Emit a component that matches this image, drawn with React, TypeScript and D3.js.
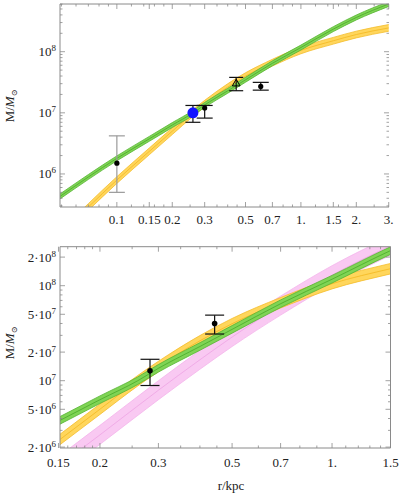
import React, { useEffect, useRef } from 'react';
import * as d3 from 'd3';

// model bands: r in kpc, M in solar masses (centre line of each band)
const greenR = [0.049, 0.1, 0.15, 0.2, 0.26, 0.3, 0.4, 0.5, 0.7, 1.0, 1.5, 2.0, 3.0];
const greenM = [4.27e5, 1.8e6, 3.75e6, 6.31e6, 1.0e7, 1.35e7, 2.29e7, 3.47e7, 6.46e7, 1.17e8, 2.34e8, 3.63e8, 6.03e8];
const greenWidthDex = 0.04;

const orangeR = [0.049, 0.07, 0.1, 0.15, 0.2, 0.26, 0.3, 0.4, 0.5, 0.7, 1.0, 1.5, 2.0, 3.0];
const orangeM = [1.0e5, 2.88e5, 7.94e5, 2.34e6, 5.01e6, 1.0e7, 1.41e7, 2.63e7, 3.98e7, 6.61e7, 1.05e8, 1.51e8, 1.91e8, 2.45e8];
const orangeWidthDex = 0.055;

const pinkR = [0.15, 0.2, 0.3, 0.4, 0.5, 0.7, 1.0, 1.5];
const pinkM = [1.26e6, 2.69e6, 7.94e6, 1.66e7, 2.88e7, 6.17e7, 1.29e8, 2.63e8];
const pinkWidthDex = 0.1;

// measurements, upper panel
const topPointR = [0.1, 0.3, 0.605];
const topPointM = [1.5e6, 1.2e7, 2.7e7];
const topPointLo = [5.0e5, 8.2e6, 2.35e7];
const topPointHi = [4.2e6, 1.32e7, 3.15e7];
const topPointGray = [true, false, false];

const blueR = [0.259];
const blueM = [1.0e7];
const blueLo = [7.0e6];
const blueHi = [1.32e7];

const triR = [0.445];
const triM = [3.0e7];
const triLo = [2.3e7];
const triHi = [3.8e7];

// measurements, lower panel
const botPointR = [0.283, 0.443];
const botPointM = [1.27e7, 4.0e7];
const botPointLo = [8.9e6, 3.1e7];
const botPointHi = [1.68e7, 4.9e7];

// ticks
const topXMajor = [0.1, 0.15, 0.2, 0.3, 0.5, 0.7, 1, 1.5, 2, 3];
const topXLabels = ['0.1', '0.15', '0.2', '0.3', '0.5', '0.7', '1.', '1.5', '2.', '3.'];
const topXMinor = [0.05, 0.06, 0.07, 0.08, 0.09, 0.12, 0.14, 0.16, 0.18, 0.25, 0.35, 0.4, 0.45, 0.6, 0.8, 0.9, 1.2, 1.4, 1.6, 1.8, 2.5];
const topYMajor = [1e6, 1e7, 1e8];
const topYLabels = [['10', '6'], ['10', '7'], ['10', '8']];
const topYMinor = [3e5, 4e5, 5e5, 6e5, 7e5, 8e5, 9e5, 2e6, 3e6, 4e6, 5e6, 6e6, 7e6, 8e6, 9e6,
  2e7, 3e7, 4e7, 5e7, 6e7, 7e7, 8e7, 9e7, 2e8, 3e8, 4e8, 5e8, 6e8];

const botXMajor = [0.15, 0.2, 0.3, 0.5, 0.7, 1, 1.5];
const botXLabels = ['0.15', '0.2', '0.3', '0.5', '0.7', '1.', '1.5'];
const botXMinor = [0.16, 0.17, 0.18, 0.19, 0.25, 0.35, 0.4, 0.45, 0.6, 0.8, 0.9, 1.1, 1.2, 1.3, 1.4];
const botYMajor = [2e6, 5e6, 1e7, 2e7, 5e7, 1e8, 2e8];
const botYLabels = [['2·10', '6'], ['5·10', '6'], ['10', '7'], ['2·10', '7'], ['5·10', '7'], ['10', '8'], ['2·10', '8']];
const botYMinor = [3e6, 4e6, 6e6, 7e6, 8e6, 9e6, 3e7, 4e7, 6e7, 7e7, 8e7, 9e7];

const FONT = '"Liberation Serif", "DejaVu Serif", serif';
const AXIS = '#8a8a8a';

function drawBand(g, x, y, rs, ms, dex, c) {
  const pts = rs.map((r, i) => ({ r, m: ms[i] }));
  const k = Math.pow(10, dex);
  const area = d3.area<any>()
    .x(d => x(d.r)).y0(d => y(d.m / k)).y1(d => y(d.m * k))
    .curve(d3.curveMonotoneX);
  const line = (f: number) => d3.line<any>()
    .x(d => x(d.r)).y(d => y(d.m * f))
    .curve(d3.curveMonotoneX);
  g.append('path').attr('d', area(pts)).attr('fill', c.fill).attr('fill-opacity', c.opacity);
  [1 / k, k].forEach(f => {
    g.append('path').attr('d', line(f)(pts)).attr('fill', 'none')
      .attr('stroke', c.edge).attr('stroke-width', 0.8);
  });
  g.append('path').attr('d', line(1)(pts)).attr('fill', 'none')
    .attr('stroke', c.mid).attr('stroke-width', 0.8);
}

function drawErrors(g, x, y, rs, ms, lo, hi, half, color) {
  rs.forEach((r, i) => {
    const col = Array.isArray(color) ? color[i] : color;
    const cx = x(r);
    g.append('line').attr('x1', cx).attr('x2', cx).attr('y1', y(lo[i])).attr('y2', y(hi[i]))
      .attr('stroke', col).attr('stroke-width', 1.2);
    [lo[i], hi[i]].forEach(v => {
      g.append('line').attr('x1', cx - half).attr('x2', cx + half).attr('y1', y(v)).attr('y2', y(v))
        .attr('stroke', col).attr('stroke-width', 1.2);
    });
  });
}

function drawFrame(svg, x, y, p, xMajor, xLabels, xMinor, yMajor, yLabels, yMinor) {
  const g = svg.append('g');
  const { left, right, top, bottom } = p;
  // frame lines
  const sides = [[left, bottom, right, bottom], [left, top, left, bottom], [left, top, right, top]];
  if (p.rightLine) sides.push([right, top, right, bottom]);
  sides.forEach(s => g.append('line').attr('x1', s[0]).attr('y1', s[1]).attr('x2', s[2]).attr('y2', s[3])
    .attr('stroke', AXIS).attr('stroke-width', 1));

  const tick = (x1, y1, x2, y2) => g.append('line').attr('x1', x1).attr('y1', y1).attr('x2', x2).attr('y2', y2)
    .attr('stroke', AXIS).attr('stroke-width', 0.8);

  xMajor.forEach(v => { const px = x(v); tick(px, bottom, px, bottom - 5); tick(px, top, px, top + 5); });
  xMinor.forEach(v => { const px = x(v); if (px < left || px > right) return; tick(px, bottom, px, bottom - 2.5); tick(px, top, px, top + 2.5); });
  yMajor.forEach(v => { const py = y(v); tick(left, py, left + 5, py); tick(right, py, right - 5, py); });
  yMinor.forEach(v => { const py = y(v); if (py < top || py > bottom) return; tick(left, py, left + 2.5, py); tick(right, py, right - 2.5, py); });

  xMajor.forEach((v, i) => {
    g.append('text').attr('x', x(v)).attr('y', bottom + p.xLabelDy)
      .attr('text-anchor', 'middle').attr('font-family', FONT).attr('font-size', 13).attr('fill', '#222')
      .text(xLabels[i]);
  });
  yMajor.forEach((v, i) => {
    const t = g.append('text').attr('x', left - 4).attr('y', y(v) + 4.5)
      .attr('text-anchor', 'end').attr('font-family', FONT).attr('font-size', 13).attr('fill', '#222');
    t.append('tspan').text(yLabels[i][0]);
    t.append('tspan').attr('dy', -5).attr('font-size', 9).text(yLabels[i][1]);
  });

  // y axis title
  const title = g.append('text')
    .attr('transform', `translate(13.5,${p.titleY}) rotate(-90)`)
    .attr('text-anchor', 'middle').attr('font-family', FONT).attr('font-size', 13).attr('fill', '#222');
  title.append('tspan').text('M/');
  title.append('tspan').attr('font-style', 'italic').text('M');
  title.append('tspan').attr('dy', 3).attr('font-size', 8).text('⊙');
}

const greenStyle = { fill: '#7fd455', opacity: 1, edge: '#56b432', mid: '#4aa82a' };
const orangeStyle = { fill: '#ffd65c', opacity: 1, edge: '#f4bd2c', mid: '#f2b822' };
const pinkStyle = { fill: '#f8bff0', opacity: 0.85, edge: '#f4b4eb', mid: '#eda3e3' };

export default function App() {
  const ref = useRef<SVGSVGElement>(null);

  useEffect(() => {
    const svg = d3.select(ref.current);
    svg.selectAll('*').remove();

    // ---------- upper panel ----------
    const pt = { id: 'top', left: 60, right: 389, top: 4, bottom: 207, xLabelDy: 17, titleY: 106, rightLine: false };
    const xt = d3.scaleLog().domain([0.0491, 3.01]).range([pt.left, pt.right]);
    const yt = d3.scaleLog().domain([2.88e5, 6.03e8]).range([pt.bottom, pt.top]);

    svg.append('clipPath').attr('id', 'clip-top').append('rect')
      .attr('x', pt.left).attr('y', pt.top).attr('width', pt.right - pt.left).attr('height', pt.bottom - pt.top);
    const gt = svg.append('g').attr('clip-path', 'url(#clip-top)');
    drawBand(gt, xt, yt, orangeR, orangeM, orangeWidthDex, orangeStyle);
    drawBand(gt, xt, yt, greenR, greenM, greenWidthDex, greenStyle);

    drawFrame(svg, xt, yt, pt, topXMajor, topXLabels, topXMinor, topYMajor, topYLabels, topYMinor);

    const mt = svg.append('g');
    drawErrors(mt, xt, yt, topPointR, topPointM, topPointLo, topPointHi, 8,
      topPointGray.map(gr => (gr ? '#9a9a9a' : '#111')));
    drawErrors(mt, xt, yt, blueR, blueM, blueLo, blueHi, 7.5, '#111');
    drawErrors(mt, xt, yt, triR, triM, triLo, triHi, 7, '#111');
    topPointR.forEach((r, i) => {
      mt.append('circle').attr('cx', xt(r)).attr('cy', yt(topPointM[i])).attr('r', 2.6).attr('fill', '#000');
    });
    blueR.forEach((r, i) => {
      mt.append('circle').attr('cx', xt(r)).attr('cy', yt(blueM[i])).attr('r', 5.5).attr('fill', '#1414ff');
    });
    triR.forEach((r, i) => {
      mt.append('path').attr('d', d3.symbol().type(d3.symbolTriangle).size(26)())
        .attr('transform', `translate(${xt(r)},${yt(triM[i])})`)
        .attr('fill', 'none').attr('stroke', '#000').attr('stroke-width', 1);
    });

    // ---------- lower panel ----------
    const pb = { id: 'bot', left: 60, right: 390.5, top: 246.7, bottom: 448, xLabelDy: 18.5, titleY: 343, rightLine: true };
    const xb = d3.scaleLog().domain([0.1516, 1.5]).range([pb.left, pb.right]);
    const yb = d3.scaleLog().domain([1.957e6, 2.573e8]).range([pb.bottom, pb.top]);

    svg.append('clipPath').attr('id', 'clip-bot').append('rect')
      .attr('x', pb.left).attr('y', pb.top).attr('width', pb.right - pb.left).attr('height', pb.bottom - pb.top);
    const gb = svg.append('g').attr('clip-path', 'url(#clip-bot)');
    drawBand(gb, xb, yb, pinkR, pinkM, pinkWidthDex, pinkStyle);
    drawBand(gb, xb, yb, orangeR, orangeM, orangeWidthDex, orangeStyle);
    drawBand(gb, xb, yb, greenR, greenM, greenWidthDex, greenStyle);

    drawFrame(svg, xb, yb, pb, botXMajor, botXLabels, botXMinor, botYMajor, botYLabels, botYMinor);

    const mb = svg.append('g');
    drawErrors(mb, xb, yb, botPointR, botPointM, botPointLo, botPointHi, 9.5, '#111');
    botPointR.forEach((r, i) => {
      mb.append('circle').attr('cx', xb(r)).attr('cy', yb(botPointM[i])).attr('r', 2.8).attr('fill', '#000');
    });

    svg.append('text').attr('x', 231).attr('y', 490)
      .attr('text-anchor', 'middle').attr('font-family', FONT).attr('font-size', 13).attr('fill', '#222')
      .text('r/kpc');
  }, []);

  return (
    <svg ref={ref} width={399} height={495}
      style={{ position: 'absolute', left: 0, top: 0, background: '#fff' }} />
  );
}
